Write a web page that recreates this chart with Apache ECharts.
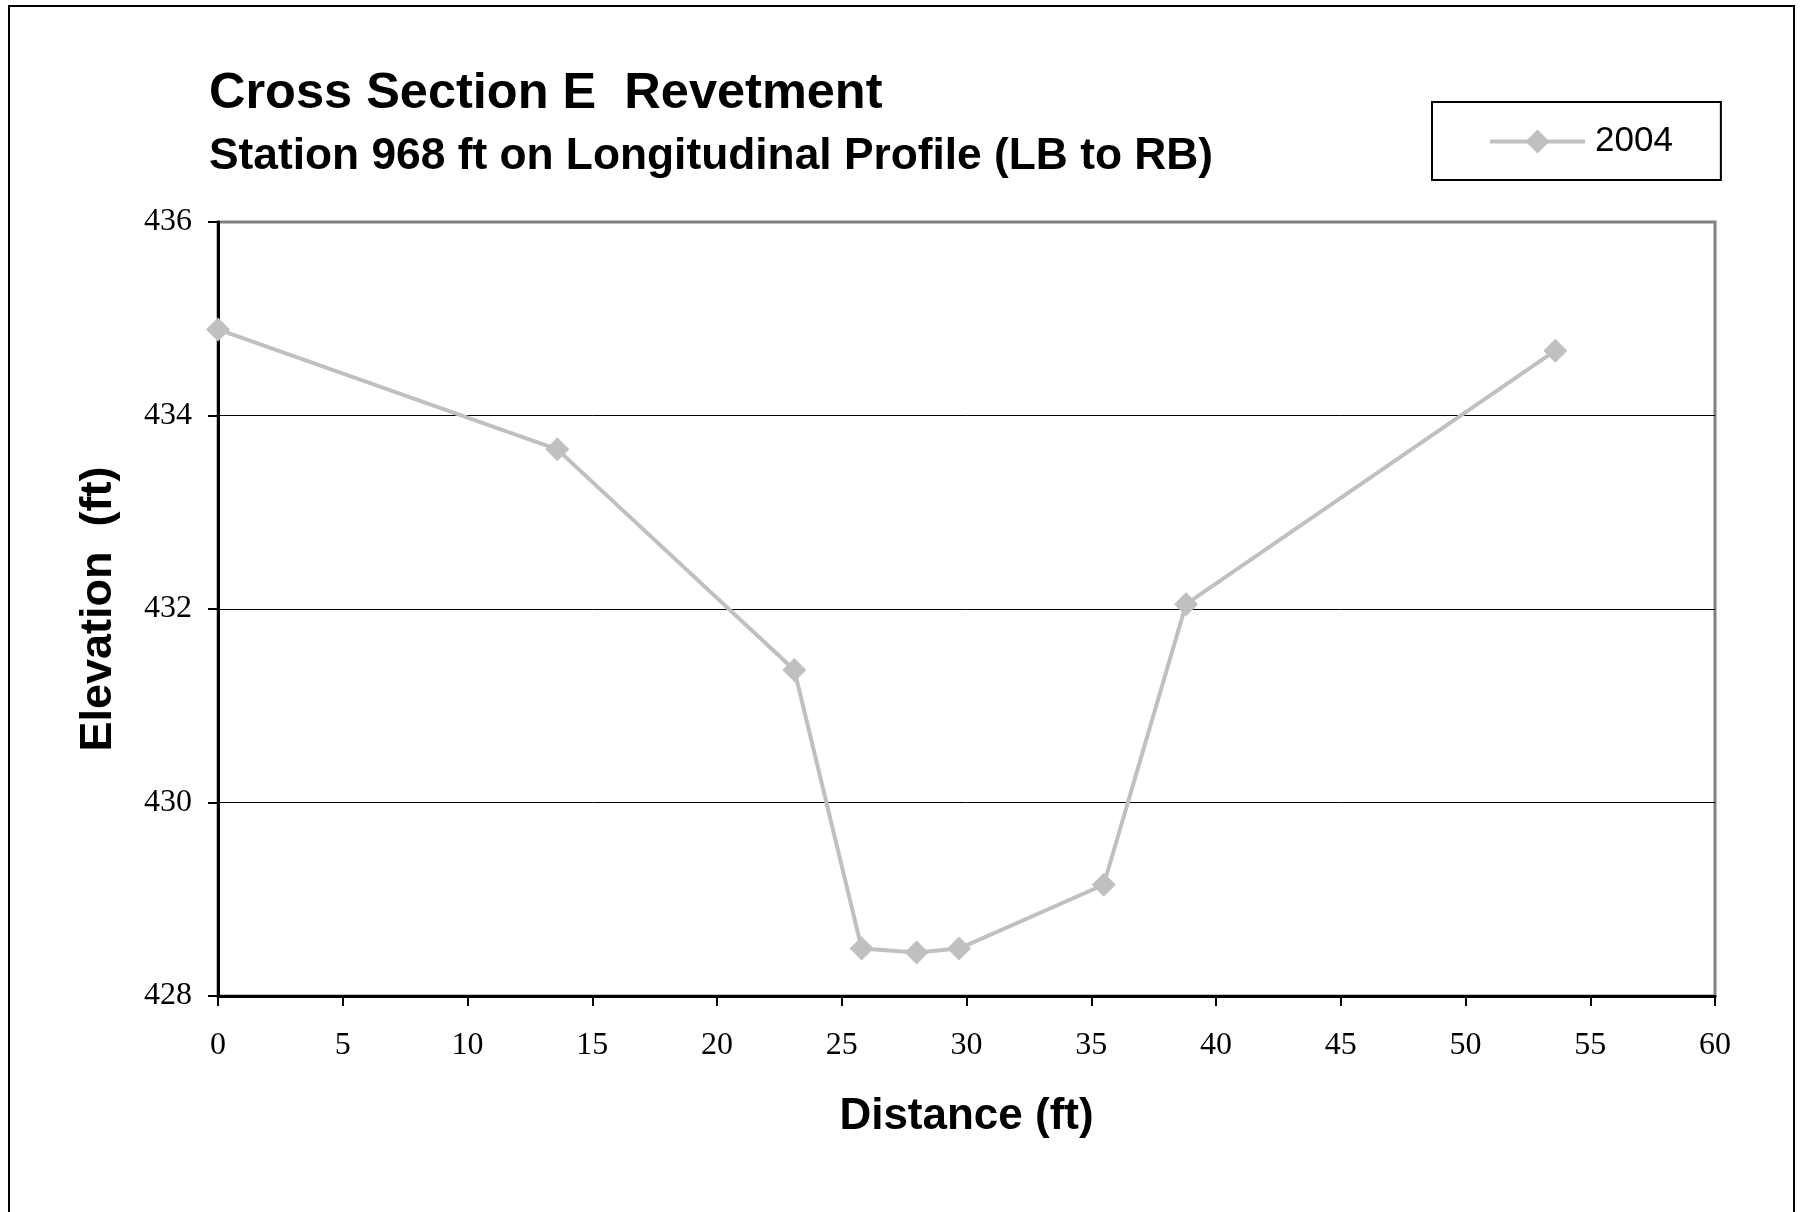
<!DOCTYPE html>
<html>
<head>
<meta charset="utf-8">
<script src="https://cdn.jsdelivr.net/npm/echarts@6/dist/echarts.min.js"></script>
<style>
html,body{margin:0;padding:0;background:#fff;}
#chart{width:1803px;height:1212px;}
</style>
</head>
<body>
<div id="chart"></div>
<script>
// Data
var distance = [0, 13.6, 23.1, 25.8, 28.0, 29.7, 35.5, 38.8, 53.6];
var elevation = [434.89, 433.65, 431.37, 428.49, 428.45, 428.49, 429.15, 432.05, 434.67];
var seriesName = '2004';
var titleText = 'Cross Section E  Revetment';
var subtitleText = 'Station 968 ft on Longitudinal Profile (LB to RB)';
var xAxisName = 'Distance (ft)';
var yAxisName = 'Elevation  (ft)';

var points = distance.map(function (d, i) { return [d, elevation[i]]; });

var chart = echarts.init(document.getElementById('chart'), null, {renderer: 'canvas'});
var option = {
  backgroundColor: '#ffffff',
  animation: false,
  title: [
    {
      text: titleText, left: 209, top: 69, padding: 0,
      textStyle: {fontFamily: 'Liberation Sans', fontWeight: 'bold', fontSize: 50.5, color: '#000', lineHeight: 50}
    },
    {
      text: subtitleText, left: 209, top: 135, padding: 0,
      textStyle: {fontFamily: 'Liberation Sans', fontWeight: 'bold', fontSize: 44.3, color: '#000', lineHeight: 44}
    }
  ],
  graphic: [
    {
      type: 'rect', silent: true, z: 100,
      shape: {x: 9, y: 6, width: 1785, height: 1300},
      style: {fill: 'none', stroke: '#000', lineWidth: 2}
    }
  ],
  legend: {
    left: 1432, top: 102,
    orient: 'horizontal',
    padding: [22, 48, 21, 56],
    borderColor: '#000', borderWidth: 2,
    backgroundColor: '#fff',
    itemWidth: 95, itemHeight: 30,
    lineStyle: {width: 4, color: '#C0C0C0'},
    textStyle: {fontFamily: 'Liberation Sans', fontSize: 35, color: '#000', padding: [0, 0, 0, 5]},
    data: [seriesName]
  },
  grid: {
    left: 218, right: 88, top: 222, bottom: 216,
    show: true, borderColor: '#808080', borderWidth: 3, backgroundColor: '#fff',
    containLabel: false
  },
  xAxis: {
    type: 'value', min: 0, max: 60, interval: 5,
    name: xAxisName, nameLocation: 'middle', nameGap: 99,
    nameTextStyle: {fontFamily: 'Liberation Sans', fontWeight: 'bold', fontSize: 44, color: '#000'},
    axisLine: {show: true, onZero: false, lineStyle: {color: '#000', width: 3}},
    axisTick: {show: true, inside: false, length: 10, lineStyle: {color: '#000', width: 2}},
    axisLabel: {fontFamily: 'Liberation Serif', fontSize: 32, color: '#000', margin: 34},
    splitLine: {show: false}
  },
  yAxis: {
    type: 'value', min: 428, max: 436, interval: 2,
    name: yAxisName, nameLocation: 'middle', nameGap: 97, nameRotate: 90,
    nameTextStyle: {fontFamily: 'Liberation Sans', fontWeight: 'bold', fontSize: 45, color: '#000'},
    axisLine: {show: true, onZero: false, lineStyle: {color: '#000', width: 3}},
    axisTick: {show: true, inside: false, length: 10, lineStyle: {color: '#000', width: 2}},
    axisLabel: {fontFamily: 'Liberation Serif', fontSize: 32, color: '#000', margin: 26},
    splitLine: {show: true, showMinLine: false, showMaxLine: false, lineStyle: {color: '#000', width: 1}}
  },
  series: [
    {
      name: seriesName, type: 'line', data: points,
      symbol: 'diamond', symbolSize: 24,
      lineStyle: {color: '#C0C0C0', width: 4},
      itemStyle: {color: '#C0C0C0'},
      z: 5
    }
  ]
};
chart.setOption(option);
</script>
</body>
</html>
